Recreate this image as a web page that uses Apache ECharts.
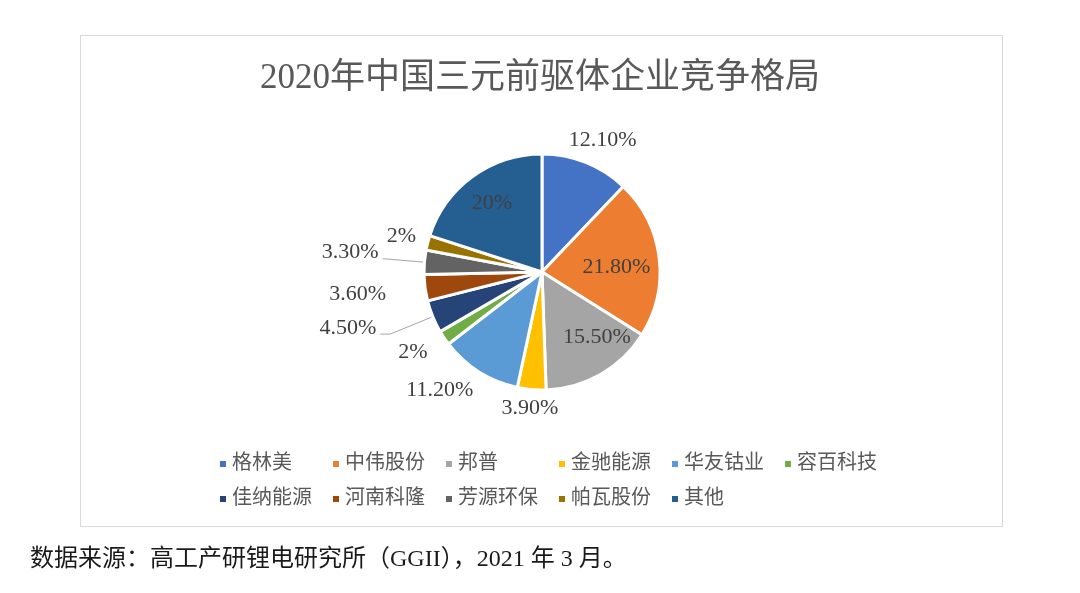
<!DOCTYPE html>
<html>
<head>
<meta charset="utf-8">
<script src="https://cdn.jsdelivr.net/npm/echarts@6/dist/echarts.min.js"></script>
<style>html,body{margin:0;padding:0;background:#fff;}#main{width:1080px;height:593px;}</style>
</head>
<body>
<div id="main"></div>
<script>
// ---- data ----
const categories = ['格林美','中伟股份','邦普','金驰能源','华友钴业','容百科技','佳纳能源','河南科隆','芳源环保','帕瓦股份','其他'];
const shares = [12.1, 21.8, 15.5, 3.9, 11.2, 2, 4.5, 3.6, 3.3, 2, 20];
const labelTexts = ['12.10%','21.80%','15.50%','3.90%','11.20%','2%','4.50%','3.60%','3.30%','2%','20%'];
const titleText = '2020年中国三元前驱体企业竞争格局';
const sourceText = '数据来源：高工产研锂电研究所（GGII），2021 年 3 月。';

// ---- styles ----
const colors = ['#4472C4','#ED7D31','#A5A5A5','#FFC000','#5B9BD5','#70AD47','#264478','#9E480E','#636363','#997300','#255E91'];
// label placement: [distance from centre, extra dx, extra dy]
const labelPlace = [[142,8,0],[75,0,5],[80,15,-4],[137,0,0],[156,-19,-14],[152,-3,-5],[0,0,0],[186,0,-3],[0,0,0],[145,0,0],[85,0,0]];
// leader lines: [bend distance, horizontal tail, label gap]
const leaders = {6:[164,10,4], 8:[160,0,4]};
const CX = 542, CY = 272, R = 118;
const serif = "'Liberation Serif','Noto Sans CJK SC',serif";

const total = shares.reduce((a,b)=>a+b,0);
const midAngles = [];
let acc = 0;
shares.forEach(v => { midAngles.push((acc + v/2)/total*2*Math.PI); acc += v; });

const chart = echarts.init(document.getElementById('main'));
chart.setOption({
  animation: false,
  color: colors,
  graphic: [
    {type:'rect', z:-10, shape:{x:80.5,y:35.5,width:922,height:491}, style:{fill:'#fff',stroke:'#d9d9d9',lineWidth:1}},
    {type:'text', left:30, top:548, style:{text:sourceText, font:'24px '+serif, fill:'#1a1a1a'}}
  ],
  title: {text:titleText, left:'center', top:56, textStyle:{fontFamily:serif, fontSize:35, fontWeight:'normal', color:'#595959'}},
  legend: {
    left:213, top:445, width:700, itemGap:7, itemWidth:8, itemHeight:8, icon:'rect',
    textStyle:{fontFamily:serif, fontSize:20, color:'#595959', width:92, lineHeight:28},
    data: categories
  },
  series: [{
    type:'pie', center:[CX,CY], radius:R, startAngle:90, clockwise:true,
    avoidLabelOverlap:false,
    itemStyle:{borderColor:'#fff', borderWidth:3},
    emphasis:{disabled:true},
    label:{show:true, position:'outside', fontFamily:serif, fontSize:22, color:'#404040',
      formatter: p => labelTexts[p.dataIndex]},
    labelLine:{show:false, lineStyle:{color:'#a6a6a6', width:1}},
    data: categories.map((c,i)=>({name:c, value:shares[i], labelLine:{show: leaders[i]!==undefined}})),
    labelLayout: function(p){
      const i = p.dataIndex, a = midAngles[i];
      const sx = Math.sin(a), sy = -Math.cos(a);
      if (leaders[i]) {
        const [bd, tail, gap] = leaders[i];
        const p0 = [CX + sx*R, CY + sy*R];
        const p1 = [CX + sx*bd, CY + sy*bd];
        const p2 = [p1[0] - tail, p1[1]];
        return {x: p2[0]-gap, y: p2[1]-6, align:'right', verticalAlign:'middle', labelLinePoints:[p0,p1,p2]};
      }
      const [d, ox, oy] = labelPlace[i];
      return {x: CX + sx*d + ox, y: CY + sy*d + oy, align:'center', verticalAlign:'middle'};
    }
  }]
});
</script>
</body>
</html>
